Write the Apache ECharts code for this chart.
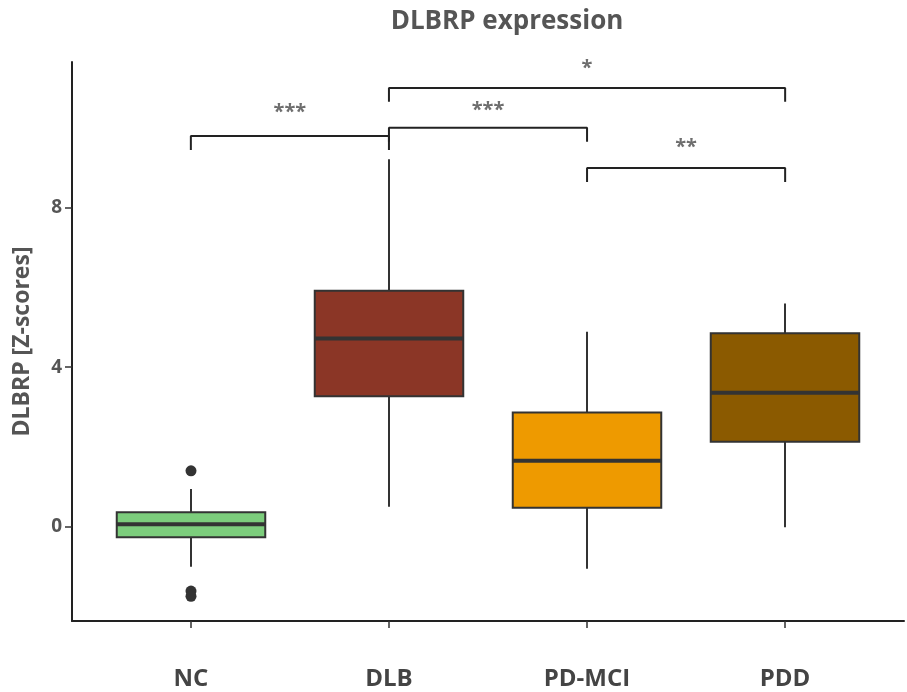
<!DOCTYPE html>
<html>
<head>
<meta charset="utf-8">
<title>DLBRP expression</title>
<script src="https://cdn.jsdelivr.net/npm/echarts@6/dist/echarts.min.js"></script>
<style>
  html, body { margin: 0; padding: 0; background: #fff; }
  #chart { width: 907px; height: 692px; }
</style>
</head>
<body>
<div id="chart"></div>
<script>
// 分组
const categories = ['NC', 'DLB', 'PD-MCI', 'PDD'];
// [下须, Q1, 中位数, Q3, 上须]
const boxValues = [
    [-1.01, -0.27, 0.06, 0.36, 0.94],
    [0.50, 3.27, 4.72, 5.92, 9.22],
    [-1.06, 0.47, 1.65, 2.86, 4.89],
    [-0.02, 2.13, 3.36, 4.85, 5.60]
];
const boxColors = ['#7CCD7C', '#8B3626', '#EE9A00', '#8B5A00'];
// 离群点 [组序号, 值]
const outliers = [[0, 1.40], [0, -1.62], [0, -1.75]];
// 显著性比较: 组位置(1起), 横线高度, 标记
const compFrom = [1, 2, 2, 3];
const compTo = [2, 3, 4, 4];
const compHeight = [9.80, 10.01, 11.01, 9.00];
const compLabel = ['***', '***', '*', '**'];
const compLabelY = [10.48, 10.53, 11.58, 9.60];
const compDrop = 0.35;
const yTicks = [0, 4, 8];
const yMin = -2.37;
const yMax = 11.66;

const FONT = "'Open Sans', 'Noto Sans', sans-serif";

document.addEventListener('DOMContentLoaded', () => {
    const chart = echarts.init(document.getElementById('chart'));
    chart.setOption(buildOption());
});

// 箱线图 (ggplot 风格, 须线无横帽)
function renderBox(params, api) {
    const x = api.value(0);
    const lo = api.coord([x, api.value(1)]);
    const q1 = api.coord([x, api.value(2)]);
    const med = api.coord([x, api.value(3)]);
    const q3 = api.coord([x, api.value(4)]);
    const hi = api.coord([x, api.value(5)]);
    const half = api.size([1, 0])[0] * 0.75 / 2;
    const cx = med[0];
    const stroke = { stroke: '#333', lineWidth: 2 };
    return {
        type: 'group',
        children: [
            { type: 'line', shape: { x1: cx, y1: hi[1], x2: cx, y2: q3[1] }, style: stroke },
            { type: 'line', shape: { x1: cx, y1: q1[1], x2: cx, y2: lo[1] }, style: stroke },
            {
                type: 'rect',
                shape: { x: cx - half, y: q3[1], width: half * 2, height: q1[1] - q3[1] },
                style: { fill: boxColors[params.dataIndex], stroke: '#333', lineWidth: 2 }
            },
            { type: 'line', shape: { x1: cx - half, y1: med[1], x2: cx + half, y2: med[1] }, style: { stroke: '#333', lineWidth: 4 } }
        ]
    };
}

// 括号线数据
function bracketSeries() {
    return compFrom.map((from, i) => ({
        type: 'line',
        xAxisIndex: 1,
        yAxisIndex: 1,
        symbol: 'none',
        silent: true,
        lineStyle: { color: '#222', width: 2 },
        data: [
            [from, compHeight[i] - compDrop],
            [from, compHeight[i]],
            [compTo[i], compHeight[i]],
            [compTo[i], compHeight[i] - compDrop]
        ]
    }));
}

// 星号标记
function starSeries() {
    return {
        type: 'scatter',
        xAxisIndex: 1,
        yAxisIndex: 1,
        symbolSize: 0,
        silent: true,
        label: {
            show: true,
            position: 'inside',
            offset: [0, 3],
            formatter: p => p.data.name,
            color: '#4a4a4a',
            fontSize: 20,
            fontWeight: 'bold',
            fontFamily: FONT
        },
        data: compFrom.map((from, i) => ({
            name: compLabel[i],
            value: [(from + compTo[i]) / 2, compLabelY[i]]
        }))
    };
}

function buildOption() {
    return {
        backgroundColor: '#fff',
        animation: false,
        title: {
            text: 'DLBRP expression',
            left: 502,
            textAlign: 'center',
            top: 4,
            textStyle: { color: '#555', fontSize: 26, fontWeight: 'bold', fontFamily: FONT }
        },
        grid: [
            { left: 92, right: 23, top: 62, bottom: 71 },
            { left: 72, right: 3, top: 62, bottom: 71 }
        ],
        xAxis: [
            {
                type: 'category',
                gridIndex: 0,
                data: categories,
                axisLine: { show: false, onZero: false },
                axisTick: { show: true, alignWithLabel: true, length: 7, lineStyle: { color: '#333', width: 1.5 } },
                axisLabel: { margin: 46, color: '#444', fontSize: 24, fontWeight: 'bold', fontFamily: FONT },
                splitLine: { show: false }
            },
            {
                type: 'value',
                gridIndex: 1,
                min: 0.4,
                max: 4.6,
                axisLine: { show: true, onZero: false, lineStyle: { color: '#222', width: 2 } },
                axisTick: { show: false },
                axisLabel: { show: false },
                splitLine: { show: false }
            }
        ],
        yAxis: [
            {
                type: 'value',
                gridIndex: 0,
                min: yMin,
                max: yMax,
                show: false
            },
            {
                type: 'value',
                gridIndex: 1,
                min: yMin,
                max: yMax,
                name: 'DLBRP [Z-scores]',
                nameLocation: 'middle',
                nameGap: 38,
                nameTextStyle: { color: '#555', fontSize: 23, fontWeight: 'bold', fontFamily: FONT },
                axisLine: { show: true, onZero: false, lineStyle: { color: '#222', width: 2 } },
                axisTick: { show: true, length: 7, customValues: yTicks, lineStyle: { color: '#333', width: 1.5 } },
                axisLabel: { margin: 10, customValues: yTicks, color: '#555', fontSize: 19, fontWeight: 'bold', fontFamily: FONT },
                splitLine: { show: false }
            }
        ],
        series: [
            {
                type: 'custom',
                xAxisIndex: 0,
                yAxisIndex: 0,
                silent: true,
                renderItem: renderBox,
                encode: { x: 0, y: [1, 2, 3, 4, 5] },
                data: boxValues.map((v, i) => [i].concat(v))
            },
            {
                type: 'scatter',
                xAxisIndex: 0,
                yAxisIndex: 0,
                symbolSize: 11,
                silent: true,
                itemStyle: { color: '#333', opacity: 1 },
                data: outliers
            },
            ...bracketSeries(),
            starSeries()
        ]
    };
}
</script>
</body>
</html>
